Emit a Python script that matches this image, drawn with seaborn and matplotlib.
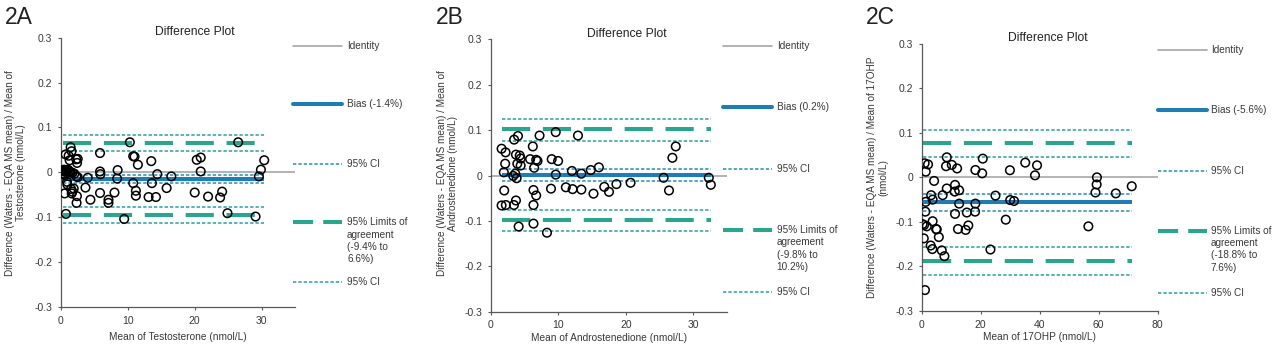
import matplotlib
matplotlib.use("Agg")
import matplotlib.pyplot as plt
from matplotlib.lines import Line2D
import numpy as np
import pandas as pd
import seaborn as sns

# ---------------- data ----------------
# Testosterone: mean of the two methods vs relative difference
testo_mean = [0.3, 0.45, 0.6, 0.75, 0.9, 1.05, 1.2, 0.4, 0.55, 1.4, 1.7, 2.0, 2.3, 2.5,
              0.74, 1.44, 1.58, 0.69, 1.14, 1.29, 2.28, 2.5, 2.4,
              0.9, 0.95, 0.54, 1.5, 1.6, 1.9, 2.38, 2.33, 1.7,
              4.0, 3.66, 4.4, 5.84, 5.84, 5.9, 5.84,
              7.1, 7.1, 8.0, 8.47, 8.4, 9.45,
              10.3, 10.8, 11.0, 11.5, 10.8, 11.2, 11.2,
              13.1, 13.5, 13.6, 14.4, 14.2, 15.8, 16.5,
              20.0, 20.3, 20.9, 20.9, 22.0, 23.8, 24.1, 24.9, 26.5, 29.1, 29.6, 29.9, 30.4]
testo_diff = [0.003, 0.006, 0.001, 0.005, 0.002, 0.006, 0.003, -0.003, -0.006, 0.001, -0.001, -0.003, -0.009, -0.011,
              -0.0926, 0.056, 0.047, 0.040, 0.037, 0.027, 0.029, 0.030, 0.021,
              -0.021, -0.027, -0.047, -0.037, -0.047, -0.036, -0.053, -0.068, -0.043,
              -0.012, -0.034, -0.061, 0.043, 0.002, -0.004, -0.046,
              -0.061, -0.068, -0.045, 0.005, -0.014, -0.104,
              0.067, 0.036, 0.035, 0.017, -0.024, -0.041, -0.052,
              -0.055, 0.025, -0.024, -0.004, -0.055, -0.035, -0.009,
              -0.045, 0.028, 0.033, 0.002, -0.054, -0.056, -0.043, -0.091, 0.067, -0.0985, -0.009, 0.006, 0.027]
testo_bias = -0.014
testo_bias_ci = [-0.023, -0.005]
testo_loa = [-0.094, 0.066]
testo_loa_ci = [-0.112, -0.077, 0.047, 0.084]

# Androstenedione
andro_mean = [1.57, 2.16, 2.1, 1.9, 1.96, 1.57, 2.2, 3.43, 4.0, 3.7, 4.26, 4.4, 3.9, 4.4,
              3.3, 3.6, 3.8, 3.7, 3.4, 4.1, 6.2, 5.8, 6.4, 6.7, 6.9, 6.3, 6.7, 6.3, 6.3,
              7.2, 8.3, 9.0, 8.9, 9.6, 9.6, 9.95, 11.1, 12.0, 12.1, 12.9, 13.4, 13.4,
              14.8, 15.2, 16.0, 16.8, 17.5, 18.6, 20.7, 25.6, 26.4, 26.9, 27.4, 32.3, 32.6]
andro_diff = [0.059, 0.051, 0.026, 0.007, -0.033, -0.066, -0.065, 0.079, 0.087, 0.046, 0.044, 0.0375, 0.026, 0.022,
              -0.001, 0.004, -0.006, -0.055, -0.065, -0.1125, 0.064, 0.036, 0.017, 0.0345, 0.032, -0.032, -0.044, -0.065, -0.106,
              0.088, -0.126, 0.036, -0.029, 0.0955, 0.002, 0.032, -0.026, 0.010, -0.030, 0.088, -0.031, 0.004,
              0.012, -0.040, 0.018, -0.025, -0.036, -0.019, -0.016, -0.005, -0.033, 0.039, 0.064, -0.005, -0.0205]
andro_bias = 0.002
andro_bias_ci = [-0.013, 0.014]
andro_loa = [-0.098, 0.102]
andro_loa_ci = [-0.123, -0.076, 0.077, 0.125]

# 17-hydroxyprogesterone
ohp_mean = [1.0, 2.15, 1.36, 4.2, 8.5, 8.25, 10.2, 12.0, 8.5, 7.1, 3.2, 3.7, 1.36, 1.24,
            0.3, 0.8, 1.7, 0.7, 3.7, 4.9, 5.1, 5.8, 3.05, 3.6, 6.8, 7.7, 1.1,
            11.3, 11.2, 12.7, 12.7, 11.3, 12.3, 15.3, 14.9, 15.8, 18.2, 18.2, 18.1,
            20.5, 20.7, 23.3, 25.0, 28.5, 29.9, 30.0, 31.3, 35.1, 38.4, 39.1,
            56.5, 58.9, 59.3, 59.4, 65.8, 71.2]
ohp_diff = [0.0316, 0.029, 0.0128, -0.008, 0.045, 0.025, 0.028, 0.020, -0.025, -0.040, -0.040, -0.050, -0.055, -0.077,
            -0.105, -0.107, -0.110, -0.137, -0.0985, -0.116, -0.117, -0.134, -0.153, -0.161, -0.164, -0.177, -0.253,
            -0.017, -0.032, -0.029, -0.059, -0.082, -0.116, -0.079, -0.118, -0.108, 0.0165, -0.059, -0.077,
            0.009, 0.042, -0.162, -0.041, -0.095, 0.016, -0.051, -0.053, 0.033, 0.0045, 0.027,
            -0.110, -0.034, -0.016, 0.0, -0.036, -0.020]
ohp_bias = -0.056
ohp_bias_ci = [-0.075, -0.037]
ohp_loa = [-0.188, 0.076]
ohp_loa_ci = [-0.220, -0.157, 0.045, 0.106]

panel_tags = ["2A", "2B", "2C"]
analytes = ["Testosterone", "Androstenedione", "17OHP"]
ylabels = ["Difference (Waters - EQA MS mean) / Mean of\nTestosterone (nmol/L)",
           "Difference (Waters - EQA MS mean) / Mean of\nAndrostenedione (nmol/L)",
           "Difference (Waters - EQA MS mean) / Mean of 17OHP\n(nmol/L)"]
x_limits = [35, 35, 80]
x_ticks = [[0, 10, 20, 30], [0, 10, 20, 30], [0, 20, 40, 60, 80]]
y_ticks = [-0.3, -0.2, -0.1, 0.0, 0.1, 0.2, 0.3]
y_tick_labels = ["-0.3", "-0.2", "-0.1", "0", "0.1", "0.2", "0.3"]
title = "Difference Plot"

# ---------------- style ----------------
sns.set_style("ticks")
plt.rcParams["font.family"] = ["Liberation Sans", "DejaVu Sans"]

GRAY = "#a6a6a6"
BLUE = "#1f7db6"
BLUE_CI = "#2b8cb4"
TEAL = "#2aa68f"
TEAL_CI = "#2a9f9c"
TEXT = "#383838"
AXIS = "#595959"

LW_THICK = 2.9
LW_THIN = 1.1
LOA_DASH = (0, (7.0, 3.15))
CI_DASH = (0, (2.2, 1.3))

W, H = 1280, 348
fig = plt.figure(figsize=(W / 100, H / 100), dpi=100)


def fx(px):
    return px / W


def fy(py):
    return 1 - py / H


# layout of each panel in pixels (left, top, right, bottom) and its legend
layout = [
    dict(rect=(61, 37.7, 295, 307), tag_x=5, ylab=(-0.194, 0.498), xlab=-0.111, title=(0.573, 1.021),
         leg=dict(x0=293, x1=342, tx=347, ys=[46, 104.3, 163.7, 222.3, 282])),
    dict(rect=(491, 39.3, 727, 311.7), tag_x=436, ylab=(-0.186, 0.508), xlab=-0.097, title=(0.575, 1.02),
         leg=dict(x0=723, x1=771.7, tx=776.7, ys=[46, 107.3, 169.3, 230, 292])),
    dict(rect=(921.7, 43.7, 1157.7, 311), tag_x=866, ylab=(-0.188, 0.501), xlab=-0.097, title=(0.534, 1.02),
         leg=dict(x0=1158, x1=1206.7, tx=1211, ys=[50, 110.3, 171.3, 230.7, 292.7])),
]

series = [
    (testo_mean, testo_diff, testo_bias, testo_bias_ci, testo_loa, testo_loa_ci),
    (andro_mean, andro_diff, andro_bias, andro_bias_ci, andro_loa, andro_loa_ci),
    (ohp_mean, ohp_diff, ohp_bias, ohp_bias_ci, ohp_loa, ohp_loa_ci),
]

for i, (xs, ys, bias, bias_ci, loa, loa_ci) in enumerate(series):
    lay = layout[i]
    l, t, r, b = lay["rect"]
    ax = fig.add_axes([fx(l), fy(b), (r - l) / W, (b - t) / H])
    df = pd.DataFrame({"mean": xs, "diff": ys})
    x0, x1 = df["mean"].min(), df["mean"].max()

    # reference lines
    ax.axhline(0, color=GRAY, lw=1.2, zorder=1)
    ax.hlines(bias, x0, x1, color=BLUE, lw=LW_THICK, zorder=2)
    ax.hlines(bias_ci, x0, x1, color=BLUE_CI, lw=LW_THIN, linestyles=[CI_DASH], zorder=2)
    ax.hlines(loa, x0, x1, color=TEAL, lw=LW_THICK, linestyles=[LOA_DASH], zorder=2)
    ax.hlines(loa_ci, x0, x1, color=TEAL_CI, lw=LW_THIN, linestyles=[CI_DASH], zorder=2)

    # open circles for each sample
    sns.scatterplot(data=df, x="mean", y="diff", ax=ax, marker="o", s=38,
                    color="none", edgecolor="black", linewidth=1.1, zorder=3, legend=False)

    ax.set_xlim(0, x_limits[i])
    ax.set_ylim(-0.3, 0.3)
    ax.set_xticks(x_ticks[i])
    ax.set_xticklabels([str(v) for v in x_ticks[i]])
    ax.set_yticks(y_ticks)
    ax.set_yticklabels(y_tick_labels)
    ax.tick_params(axis="both", length=2.2, width=0.8, color=AXIS, labelsize=7.5,
                   labelcolor=TEXT, pad=4)
    for side in ("top", "right"):
        ax.spines[side].set_visible(False)
    for side in ("left", "bottom"):
        ax.spines[side].set_color(AXIS)
        ax.spines[side].set_linewidth(0.9)

    ax.set_xlabel(f"Mean of {analytes[i]} (nmol/L)", fontsize=7.3, color=TEXT, va="center")
    ax.xaxis.set_label_coords(0.5, lay["xlab"])
    ax.set_ylabel(ylabels[i], fontsize=7.2, color=TEXT, va="center", linespacing=1.15)
    ax.yaxis.set_label_coords(*lay["ylab"])

    ax.text(lay["title"][0], lay["title"][1], title, transform=ax.transAxes,
            ha="center", va="center", fontsize=8.7, color="#222222")
    fig.text(fx(lay["tag_x"]), fy(23.5), panel_tags[i], fontsize=16.5, va="baseline",
             ha="left", color="#222222")

    # legend entries, evenly spaced down the right-hand side
    leg = lay["leg"]
    entries = [
        ("Identity", GRAY, 1.2, "-"),
        (f"Bias ({bias * 100:.1f}%)", BLUE, LW_THICK, "-"),
        ("95% CI", BLUE_CI, LW_THIN, CI_DASH),
        (f"95% Limits of\nagreement\n({loa[0] * 100:.1f}% to\n{loa[1] * 100:.1f}%)",
         TEAL, LW_THICK, (0, (5.0, 2.5))),
        ("95% CI", TEAL_CI, LW_THIN, CI_DASH),
    ]
    for (label, col, lw, ls), yy in zip(entries, leg["ys"]):
        fig.add_artist(Line2D([fx(leg["x0"]), fx(leg["x1"])], [fy(yy), fy(yy)],
                              transform=fig.transFigure, color=col, lw=lw, linestyle=ls))
        fig.text(fx(leg["tx"]), fy(yy - 5.0), label, fontsize=7.2, va="top",
                 ha="left", color=TEXT, linespacing=1.3)

fig.savefig("out.png", dpi=100)
